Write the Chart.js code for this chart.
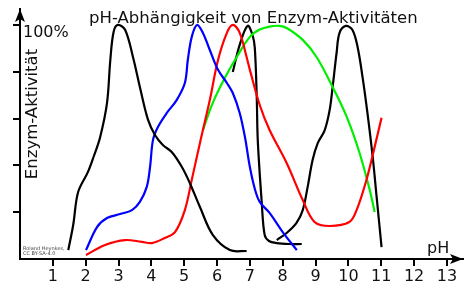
<!DOCTYPE html>
<html>
<head>
<meta charset="utf-8">
<script src="https://cdn.jsdelivr.net/npm/chart.js@4/dist/chart.umd.min.js"></script>
<style>
  html, body { margin: 0; padding: 0; background: #fff; }
</style>
</head>
<body>
<canvas id="chart" width="467" height="288"></canvas>
<script>
// axis ticks
const xTicks = [1, 2, 3, 4, 5, 6, 7, 8, 9, 10, 11, 12, 13];
const yTicks = [20, 40, 60, 80, 100];

// black curve, optimum near pH 3
const peak3Ph  = [1.47, 1.62, 1.77, 2.07, 2.25, 2.44, 2.65, 2.75, 2.85, 2.98, 3.2, 3.44, 3.65, 3.9, 4.11, 4.35, 4.62, 4.93, 5.17, 5.48, 5.87, 6.39, 6.9];
const peak3Act = [3.8, 14.5, 28.6, 37.2, 44, 52, 66.7, 85, 97, 100, 97.9, 86.3, 73.5, 59.4, 53, 48.7, 45.7, 39.3, 32.5, 22.2, 10.3, 3.8, 3.4];

// blue curve, optimum near pH 5.4
const peak5Ph  = [2.01, 2.35, 2.65, 3.05, 3.41, 3.65, 3.86, 3.96, 4.05, 4.2, 4.47, 4.77, 5.02, 5.11, 5.23, 5.39, 5.57, 5.78, 6.03, 6.3, 6.48, 6.69, 6.85, 7.0, 7.15, 7.3, 7.6, 8.0, 8.43];
const peak5Act = [3.8, 13.7, 17.5, 19.2, 20.9, 24.4, 30.8, 39.3, 50.9, 56.4, 62.4, 67.9, 75.2, 85, 94.9, 100, 96.6, 89.3, 80.8, 75.2, 70.9, 62.4, 52.1, 39.3, 30, 24.4, 19.7, 11.5, 3.8];

// red curve, optimum near pH 6.5
const peak6Ph  = [2.01, 2.59, 3.2, 3.71, 4.02, 4.41, 4.72, 5.02, 5.23, 5.48, 5.78, 6.03, 6.3, 6.48, 6.69, 6.9, 7.0, 7.3, 7.6, 8.12, 8.61, 8.97, 9.43, 10.03, 10.25, 10.55, 10.8, 11.01];
const peak6Act = [1.7, 6, 8.1, 7.3, 6.8, 9, 11.5, 20.9, 33.8, 49.6, 67.9, 85, 96.6, 100, 96.6, 86.3, 80.8, 65.8, 55.1, 41, 25.2, 15.8, 14.1, 15.8, 20.9, 33.8, 47.9, 60.3];

// green curve, optimum near pH 7.8
const peak8Ph  = [5.57, 5.87, 6.24, 6.6, 7.0, 7.3, 7.6, 7.9, 8.12, 8.61, 9.03, 9.52, 9.95, 10.34, 10.65, 10.8];
const peak8Act = [55.1, 66.7, 77.4, 86.3, 94.9, 98, 99.3, 99.6, 98.7, 93.6, 86.3, 73.5, 60.7, 45.3, 29.5, 20.1];

// black curve, narrow optimum near pH 7
const peak7Ph  = [6.48, 6.69, 6.93, 7.08, 7.15, 7.21, 7.24, 7.36, 7.45, 7.58, 7.82, 8.21, 8.58];
const peak7Act = [79.9, 91.5, 99.6, 95.7, 90.2, 68.8, 50.9, 24.4, 10.3, 7.7, 6.8, 6.4, 6.4];

// black curve, optimum near pH 10
const peak10Ph  = [7.82, 8.12, 8.42, 8.61, 8.76, 8.91, 9.07, 9.28, 9.43, 9.52, 9.64, 9.73, 9.92, 10.12, 10.28, 10.43, 10.58, 10.74, 10.86, 11.01];
const peak10Act = [8.1, 11.1, 15.4, 20.9, 30.8, 42.3, 49.6, 55.1, 63.7, 73.5, 88, 96.6, 99.6, 97.9, 90.6, 77.8, 62.4, 43.6, 26.5, 5.1];

const toPoints = (xs, ys) => xs.map((x, i) => ({ x: x, y: ys[i] }));

const curve = (xs, ys, color) => ({
  data: toPoints(xs, ys),
  borderColor: color,
  borderWidth: 2.2,
  pointRadius: 0,
  fill: false,
  tension: 0.35
});

const FONT = '"DejaVu Sans", Verdana, sans-serif';

// arrows, title and the other labels drawn on top of the chart
const decorPlugin = {
  id: 'decor',
  afterDraw(chart) {
    const ctx = chart.ctx;
    const { left, right, top, bottom } = chart.chartArea;
    const yScale = chart.scales.y;
    ctx.save();
    ctx.fillStyle = '#000';

    // x arrow
    ctx.beginPath();
    ctx.moveTo(right, bottom);
    ctx.lineTo(right - 13, bottom - 5);
    ctx.lineTo(right - 10, bottom);
    ctx.lineTo(right - 13, bottom + 5);
    ctx.closePath();
    ctx.fill();
    // y arrow
    ctx.beginPath();
    ctx.moveTo(left, top);
    ctx.lineTo(left - 5, top + 13);
    ctx.lineTo(left, top + 10);
    ctx.lineTo(left + 5, top + 13);
    ctx.closePath();
    ctx.fill();

    ctx.fillStyle = '#111';
    ctx.textBaseline = 'alphabetic';
    ctx.textAlign = 'left';
    ctx.font = '16.5px ' + FONT;
    ctx.fillText('pH-Abhängigkeit von Enzym-Aktivitäten', 89, 23);
    ctx.font = '16px ' + FONT;
    ctx.fillText('100%', left + 3, yScale.getPixelForValue(100) + 12);
    ctx.fillText('pH', 427, bottom - 6);

    // rotated axis label
    ctx.save();
    ctx.translate(left + 17, 114);
    ctx.rotate(-Math.PI / 2);
    ctx.textAlign = 'center';
    ctx.font = '16.5px ' + FONT;
    ctx.fillText('Enzym-Aktivität', 0, 0);
    ctx.restore();

    // credit
    ctx.font = '5px ' + FONT;
    ctx.fillStyle = '#444';
    ctx.fillText('Roland Heynkes,', left + 3, bottom - 9);
    ctx.fillText('CC BY-SA-4.0', left + 3, bottom - 4);
    ctx.restore();
  }
};

new Chart(document.getElementById('chart'), {
  type: 'line',
  data: {
    datasets: [
      curve(peak3Ph, peak3Act, '#000000'),
      curve(peak5Ph, peak5Act, '#0000ff'),
      curve(peak6Ph, peak6Act, '#ff0000'),
      curve(peak8Ph, peak8Act, '#00ee00'),
      curve(peak7Ph, peak7Act, '#000000'),
      curve(peak10Ph, peak10Act, '#000000')
    ]
  },
  options: {
    responsive: false,
    animation: false,
    layout: { padding: { top: 9, right: 4, left: 0, bottom: 0 } },
    plugins: {
      legend: { display: false },
      tooltip: { enabled: false },
      title: { display: false }
    },
    scales: {
      x: {
        type: 'linear',
        min: 0,
        max: 13.49,
        afterBuildTicks: (s) => { s.ticks = xTicks.map(v => ({ value: v })); },
        afterFit: (s) => { s.height = 29; },
        border: { display: true, color: '#000', width: 2 },
        grid: { drawOnChartArea: false, drawTicks: true, tickLength: 7, color: '#000', lineWidth: 2 },
        ticks: {
          autoSkip: false,
          maxRotation: 0,
          padding: 1,
          color: '#111',
          font: { family: FONT, size: 16 }
        }
      },
      y: {
        type: 'linear',
        min: 0,
        max: 106.8,
        afterBuildTicks: (s) => { s.ticks = yTicks.map(v => ({ value: v })); },
        afterFit: (s) => { s.width = 20; },
        border: { display: true, color: '#000', width: 2 },
        grid: { drawOnChartArea: false, drawTicks: true, tickLength: 7, color: '#000', lineWidth: 2 },
        ticks: { display: false }
      }
    }
  },
  plugins: [decorPlugin]
});
</script>
</body>
</html>
